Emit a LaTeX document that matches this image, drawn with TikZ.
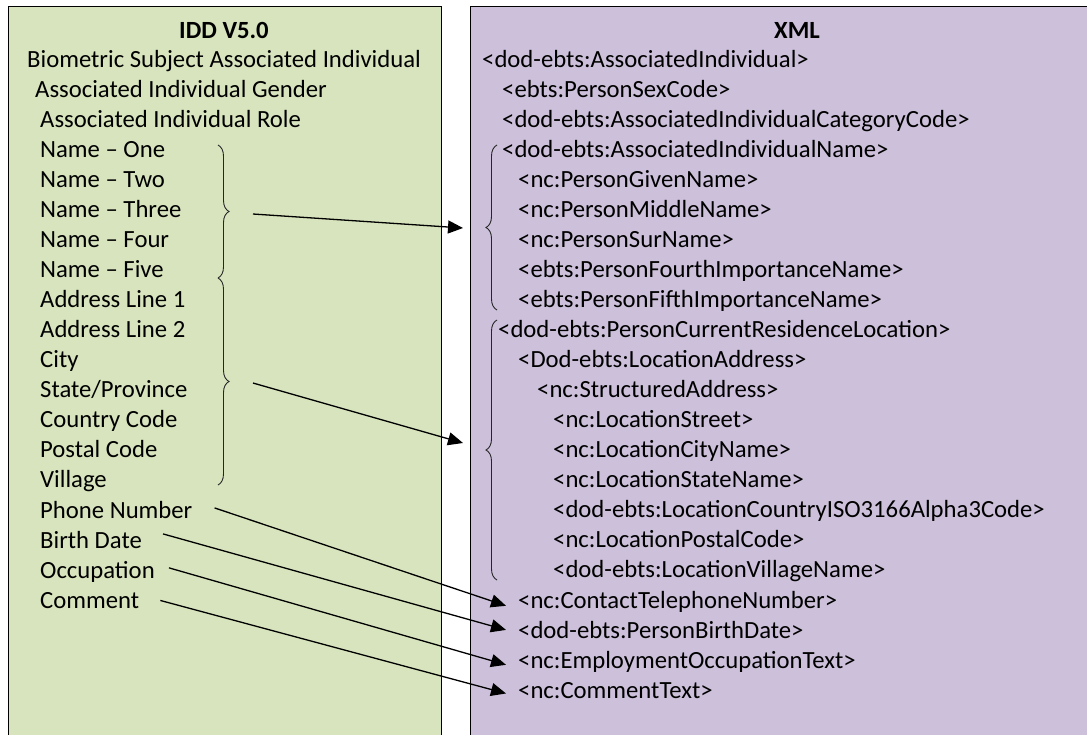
\documentclass[tikz,border=0pt]{standalone}
\usepackage{fontspec}
\setmainfont{Carlito}
\usetikzlibrary{arrows.meta,decorations.pathreplacing}
\definecolor{iddgreen}{RGB}{215,228,189}
\definecolor{xmlpurple}{RGB}{204,192,218}
\tikzset{
	item/.style={anchor=mid west, inner sep=0pt, yshift=-5pt, font=\fontsize{24.7}{30}\selectfont},
	head/.style={inner sep=0pt, yshift=-2pt, font=\fontsize{24.7}{30}\selectfont\bfseries},
	curly/.style={decorate, decoration={brace, amplitude=11pt}, draw=black!85, line width=0.9pt},
	link/.style={-{Triangle[length=15pt,width=13pt]}, line width=1.3pt}
}

\begin{document}
\begin{tikzpicture}[x=1pt, y=-1pt]
		\useasboundingbox (0,0) rectangle (1087,734);
		% panels
		\fill[iddgreen] (8,6) rectangle (441,745);
		\draw[line width=1pt] (8,745) -- (8,6) -- (441,6) -- (441,745);
		\fill[xmlpurple] (470,6) rectangle (1095,745);
		\draw[line width=1pt] (470,745) -- (470,6) -- (1095,6);
		
		% IDD column
		\node[head] (iddtitle) at (224,28) {IDD V5.0};
		\node[item] (subject) at (27,60) {Biometric Subject Associated Individual};
		\node[item] (gender) at (35,90) {Associated Individual Gender};
		\node[item] (role) at (40,120) {Associated Individual Role};
		\node[item] (nameone) at (40,150) {Name – One};
		\node[item] (nametwo) at (40,180) {Name – Two};
		\node[item] (namethree) at (40,210) {Name – Three};
		\node[item] (namefour) at (40,240) {Name – Four};
		\node[item] (namefive) at (40,270) {Name – Five};
		\node[item] (lineone) at (40,300) {Address Line 1};
		\node[item] (linetwo) at (40,330) {Address Line 2};
		\node[item] (city) at (40,360) {City};
		\node[item] (state) at (40,390) {State/Province};
		\node[item] (country) at (40,420) {Country Code};
		\node[item] (postal) at (40,450) {Postal Code};
		\node[item] (village) at (40,480) {Village};
		\node[item] (phone) at (40,511) {Phone Number};
		\node[item] (birth) at (40,541) {Birth Date};
		\node[item] (job) at (40,571) {Occupation};
		\node[item] (comment) at (40,601) {Comment};
		
		% XML column
		\node[head] (xmltitle) at (797,28) {XML};
		\node[item] (xind) at (482,60) {<dod-ebts:AssociatedIndividual>};
		\node[item] (xsex) at (502,90) {<ebts:PersonSexCode>};
		\node[item] (xcat) at (502,120) {<dod-ebts:AssociatedIndividualCategoryCode>};
		\node[item] (xname) at (502,150) {<dod-ebts:AssociatedIndividualName>};
		\node[item] (xgiven) at (518,180) {<nc:PersonGivenName>};
		\node[item] (xmiddle) at (518,210) {<nc:PersonMiddleName>};
		\node[item] (xsur) at (518,240) {<nc:PersonSurName>};
		\node[item] (xfourth) at (518,270) {<ebts:PersonFourthImportanceName>};
		\node[item] (xfifth) at (518,300) {<ebts:PersonFifthImportanceName>};
		\node[item] (xres) at (498,330) {<dod-ebts:PersonCurrentResidenceLocation>};
		\node[item] (xaddr) at (518,360) {<Dod-ebts:LocationAddress>};
		\node[item] (xstruct) at (537,390) {<nc:StructuredAddress>};
		\node[item] (xstreet) at (553,420) {<nc:LocationStreet>};
		\node[item] (xcity) at (553,450) {<nc:LocationCityName>};
		\node[item] (xstate) at (553,480) {<nc:LocationStateName>};
		\node[item] (xcountry) at (553,510) {<dod-ebts:LocationCountryISO3166Alpha3Code>};
		\node[item] (xpostal) at (553,540) {<nc:LocationPostalCode>};
		\node[item] (xvillage) at (553,570) {<dod-ebts:LocationVillageName>};
		\node[item] (xphone) at (518,601) {<nc:ContactTelephoneNumber>};
		\node[item] (xbirth) at (518,631) {<dod-ebts:PersonBirthDate>};
		\node[item] (xjob) at (518,661) {<nc:EmploymentOccupationText>};
		\node[item] (xcomment) at (518,691) {<nc:CommentText>};
		
		% braces
		\draw[curly] (218,145) -- (218,278);
		\draw[curly] (218,278) -- (218,485);
		\draw[curly] (497,310) -- (497,145);
		\draw[curly] (497,580) -- (497,320);
		\coordinate (namesfrom) at (253,214);
		\coordinate (addrfrom) at (253,383);
		\coordinate (namesto) at (463,228);
		\coordinate (addrto) at (463,443);
		
		% mappings
		\draw[link] (namesfrom) -- (namesto);
		\draw[link] (addrfrom) -- (addrto);
		\draw[link] ([xshift=22pt,yshift=2pt]phone.east) -- ([xshift=-12pt,yshift=-4pt]xphone.west);
		\draw[link] ([xshift=21pt,yshift=6pt]birth.east) -- ([xshift=-12pt]xbirth.west);
		\draw[link] ([xshift=14pt,yshift=4pt]job.east) -- ([xshift=-12pt,yshift=-3pt]xjob.west);
		\draw[link] ([xshift=21pt]comment.east) -- ([xshift=-12pt,yshift=-3pt]xcomment.west);
\end{tikzpicture}
\end{document}
